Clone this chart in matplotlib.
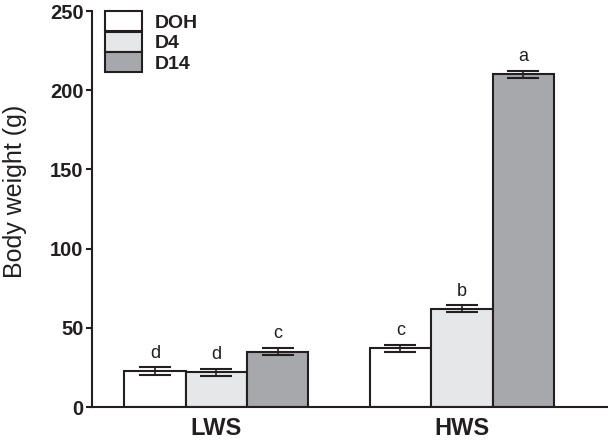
import matplotlib
matplotlib.use("Agg")
import matplotlib.pyplot as plt
import numpy as np

plt.rcParams['font.family'] = ['Liberation Sans', 'DejaVu Sans']

groups = ["LWS", "HWS"]
series = ["DOH", "D4", "D14"]
values = {
    "DOH": [22.7, 37.0],
    "D4": [22.0, 62.0],
    "D14": [35.0, 210.0],
}
errors = {
    "DOH": [2.3, 2.3],
    "D4": [2.3, 2.3],
    "D14": [2.3, 2.3],
}
letters = {
    "DOH": ["d", "c"],
    "D4": ["d", "b"],
    "D14": ["c", "a"],
}
colors = {"DOH": "#ffffff", "D4": "#e6e7e8", "D14": "#a7a8ab"}

fig = plt.figure(figsize=(6.08, 4.46), dpi=100)
ax = fig.add_axes([0.151, 0.0874, 0.849, 0.8876])

x = np.arange(len(groups))
w = 0.25
for i, s in enumerate(series):
    pos = x + (i - 1) * w
    ax.bar(pos, values[s], width=w, color=colors[s], edgecolor="#231f20",
           linewidth=1.5, label=s, zorder=2)
    ax.errorbar(pos, values[s], yerr=errors[s], fmt="none", ecolor="#231f20",
                elinewidth=1.2, capsize=11.5, capthick=1.5, zorder=3)
    for p, v, e, t in zip(pos, values[s], errors[s], letters[s]):
        ax.annotate(t, (p, v + e), xytext=(0, 4), textcoords="offset points",
                    ha="center", va="bottom", fontsize=13, color="#231f20")

ax.set_xlim(-0.507, 1.595)
ax.set_ylim(0, 250)
ax.set_yticks([0, 50, 100, 150, 200, 250])
ax.set_xticks(x)
ax.set_xticklabels(groups, fontsize=17, fontweight="bold", color="#231f20")
ax.tick_params(axis="x", length=0, pad=7)
ax.tick_params(axis="y", labelsize=14.5, width=1.5, length=4, pad=2,
               direction="out", colors="#231f20")
for lab in ax.get_yticklabels():
    lab.set_fontweight("bold")
ax.set_ylabel("Body weight (g)", fontsize=18, color="#231f20")
ax.yaxis.set_label_coords(-0.126, 0.545)
for sp in ["top", "right"]:
    ax.spines[sp].set_visible(False)
for sp in ["left", "bottom"]:
    ax.spines[sp].set_linewidth(1.5)
    ax.spines[sp].set_color("#231f20")

leg = ax.legend(loc="upper left", bbox_to_anchor=(0.025, 1.0), frameon=False,
                handlelength=1.9, handleheight=1.2, labelspacing=0,
                handletextpad=0.65, borderaxespad=0, borderpad=0,
                prop={"weight": "bold", "size": 14})
for t in leg.get_texts():
    t.set_color("#231f20")

fig.savefig("out.png", dpi=100)
